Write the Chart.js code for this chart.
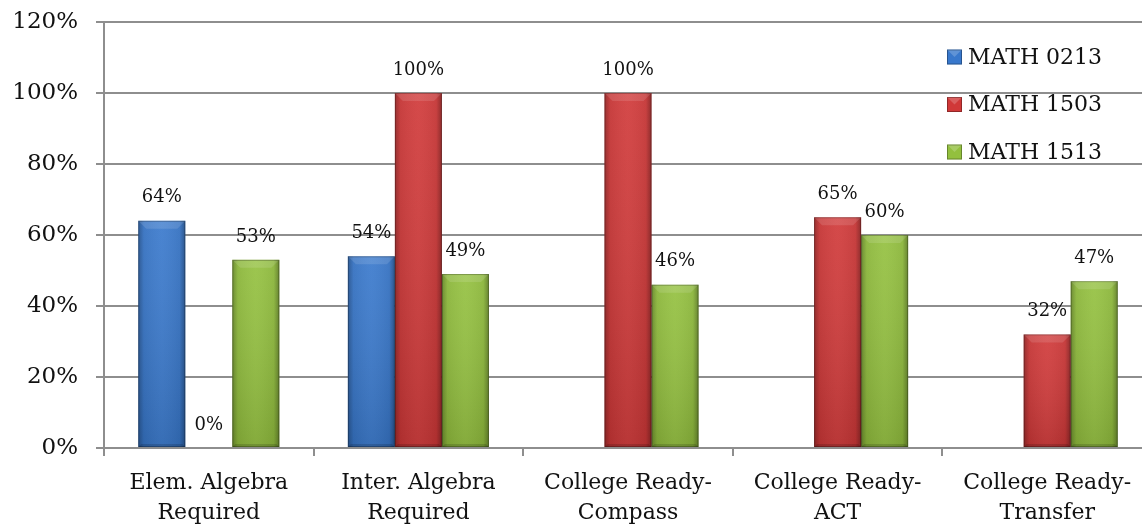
<!DOCTYPE html>
<html>
<head>
<meta charset="utf-8">
<script src="https://cdn.jsdelivr.net/npm/chart.js@4/dist/chart.umd.min.js"></script>
<style>
  html, body { margin: 0; padding: 0; background: #fff; overflow: hidden; }
  #wrap { width: 1160px; height: 525px; }
</style>
</head>
<body>
<div id="wrap"><canvas id="c"></canvas></div>
<script>
// Placement pass rates by prerequisite path
const categories = [
  ['Elem. Algebra', 'Required'],
  ['Inter. Algebra', 'Required'],
  ['College Ready-', 'Compass'],
  ['College Ready-', 'ACT'],
  ['College Ready-', 'Transfer']
];
const seriesNames = ['MATH 0213', 'MATH 1503', 'MATH 1513'];
const math0213 = [64, 54, null, null, null];
const math1503 = [0, 100, 100, 65, 32];
const math1513 = [53, 49, 46, 60, 47];
const yMax = 120;
const yStep = 20;

const colors = ['#3878cc', '#d03838', '#93c03e'];
const FONT = '"DejaVu Serif", "Liberation Serif", serif';

// Bevelled, cylinder-like shading over each bar
const bevelPlugin = {
  id: 'bevel',
  afterDatasetsDraw(chart) {
    const ctx = chart.ctx;
    chart.data.datasets.forEach((ds, di) => {
      const meta = chart.getDatasetMeta(di);
      meta.data.forEach((el, i) => {
        if (ds.data[i] === null) return;
        const p = el.getProps(['x', 'y', 'base', 'width'], true);
        const l = p.x - p.width / 2, r = p.x + p.width / 2;
        const t = Math.min(p.y, p.base), b = Math.max(p.y, p.base);
        const h = b - t;
        if (h < 1) return;
        ctx.save();
        // vertical tint
        let g = ctx.createLinearGradient(0, t, 0, b);
        g.addColorStop(0, 'rgba(255,255,255,0.06)');
        g.addColorStop(1, 'rgba(0,0,0,0.12)');
        ctx.fillStyle = g;
        ctx.fillRect(l, t, r - l, h);
        // darker sides
        g = ctx.createLinearGradient(l, 0, r, 0);
        g.addColorStop(0, 'rgba(0,0,0,0.28)');
        g.addColorStop(0.12, 'rgba(0,0,0,0.05)');
        g.addColorStop(0.5, 'rgba(255,255,255,0.03)');
        g.addColorStop(0.88, 'rgba(0,0,0,0.05)');
        g.addColorStop(1, 'rgba(0,0,0,0.32)');
        ctx.fillStyle = g;
        ctx.fillRect(l, t, r - l, h);
        // lighter top bevel
        const bv = Math.min(8, h / 2, (r - l) / 2);
        ctx.beginPath();
        ctx.moveTo(l, t); ctx.lineTo(r, t);
        ctx.lineTo(r - bv, t + bv); ctx.lineTo(l + bv, t + bv);
        ctx.closePath();
        ctx.fillStyle = 'rgba(255,255,255,0.12)';
        ctx.fill();
        // darker bottom bevel
        ctx.beginPath();
        ctx.moveTo(l, b); ctx.lineTo(r, b);
        ctx.lineTo(r - 3, b - 3); ctx.lineTo(l + 3, b - 3);
        ctx.closePath();
        ctx.fillStyle = 'rgba(0,0,0,0.15)';
        ctx.fill();
        ctx.strokeStyle = 'rgba(0,0,0,0.25)';
        ctx.lineWidth = 1;
        ctx.strokeRect(l + 0.5, t + 0.5, r - l - 1, h - 1);
        ctx.restore();
      });
    });
  }
};

// Value labels above the bars
const valueLabels = {
  id: 'valueLabels',
  afterDatasetsDraw(chart) {
    const ctx = chart.ctx;
    ctx.save();
    ctx.font = '18px ' + FONT;
    ctx.fillStyle = '#111';
    ctx.textAlign = 'center';
    ctx.textBaseline = 'middle';
    chart.data.datasets.forEach((ds, di) => {
      const meta = chart.getDatasetMeta(di);
      meta.data.forEach((el, i) => {
        const v = ds.data[i];
        if (v === null) return;
        ctx.fillText(v + '%', el.x, el.y - 23);
      });
    });
    ctx.restore();
  }
};

// Legend inside the plot area, top right
const innerLegend = {
  id: 'innerLegend',
  afterDraw(chart) {
    const ctx = chart.ctx;
    const a = chart.chartArea;
    const x0 = a.right - 205, y0 = a.top + 35, gap = 47.5, s = 15;
    ctx.save();
    ctx.font = '22px ' + FONT;
    ctx.textBaseline = 'middle';
    ctx.textAlign = 'left';
    chart.data.datasets.forEach((ds, i) => {
      const cy = y0 + i * gap;
      ctx.fillStyle = ds.backgroundColor;
      ctx.fillRect(x0, cy - s / 2, s, s);
      ctx.beginPath();
      ctx.moveTo(x0, cy - s / 2); ctx.lineTo(x0 + s, cy - s / 2);
      ctx.lineTo(x0 + s / 2, cy); ctx.closePath();
      ctx.fillStyle = 'rgba(255,255,255,0.2)';
      ctx.fill();
      ctx.strokeStyle = 'rgba(0,0,0,0.3)';
      ctx.lineWidth = 1;
      ctx.strokeRect(x0 + 0.5, cy - s / 2 + 0.5, s - 1, s - 1);
      ctx.fillStyle = '#111';
      ctx.fillText(ds.label, x0 + s + 6, cy + 1);
    });
    ctx.restore();
  }
};

new Chart(document.getElementById('c'), {
  type: 'bar',
  data: {
    labels: categories,
    datasets: [
      { label: seriesNames[0], data: math0213, backgroundColor: colors[0] },
      { label: seriesNames[1], data: math1503, backgroundColor: colors[1] },
      { label: seriesNames[2], data: math1513, backgroundColor: colors[2] }
    ]
  },
  options: {
    responsive: true,
    maintainAspectRatio: false,
    animation: false,
    layout: { padding: { top: 22, right: 8, bottom: 0, left: 0 } },
    datasets: { bar: { categoryPercentage: 0.673, barPercentage: 1.0, borderWidth: 0 } },
    plugins: { legend: { display: false }, tooltip: { enabled: false } },
    scales: {
      x: {
        afterFit(scale) { scale.height = 77; },
        grid: { drawOnChartArea: false, drawTicks: true, tickLength: 8, color: '#8e8e8e', lineWidth: 2 },
        border: { color: '#8e8e8e', width: 2 },
        ticks: { color: '#111', padding: 12, maxRotation: 0, autoSkip: false,
                 font: { family: FONT, size: 22, lineHeight: 30 / 22 } }
      },
      y: {
        min: 0, max: yMax,
        afterFit(scale) { scale.width = 104; scale.paddingTop = 0; },
        grid: { color: '#8e8e8e', lineWidth: 2, tickLength: 8 },
        border: { color: '#8e8e8e', width: 2 },
        ticks: { stepSize: yStep, color: '#111', padding: 18,
                 font: { family: FONT, size: 23 },
                 callback: v => v + '%' }
      }
    }
  },
  plugins: [bevelPlugin, valueLabels, innerLegend]
});
</script>
</body>
</html>
